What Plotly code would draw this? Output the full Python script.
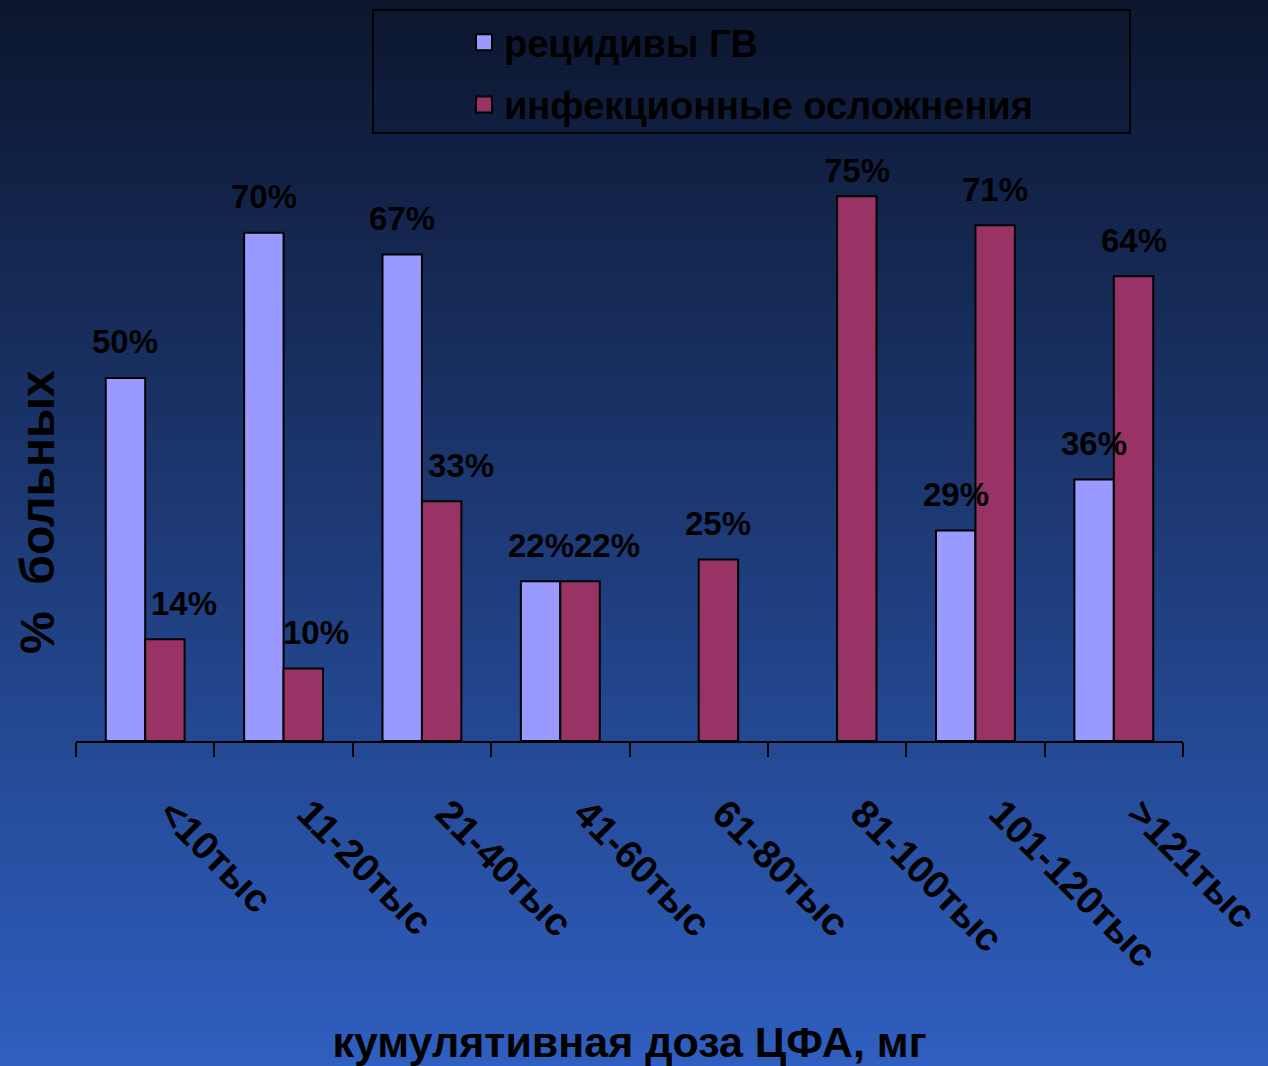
import plotly.graph_objects as go

# ---- data ----
categories = ["<10тыс", "11-20тыс", "21-40тыс", "41-60тыс", "61-80тыс",
              "81-100тыс", "101-120тыс", ">121тыс"]
relapse = [50, 70, 67, 22, None, None, 29, 36]          # рецидивы ГВ, %
infection = [14, 10, 33, 22, 25, 75, 71, 64]            # инфекционные осложнения, %
series_names = ["рецидивы ГВ", "инфекционные осложнения"]

# ---- style ----
FONT = "Liberation Sans, Arial, sans-serif"
BLUE = "#9999ff"
PLUM = "#993366"
W, H = 1268, 1066
M_L, M_R, M_T, M_B = 76, 85, 160, 325
Y_MAX = 80
plot_w = W - M_L - M_R
plot_h = H - M_T - M_B

# small pixel nudges for the value labels of the second series
infection_label_dx = [19, 13, 19, 27, 0, 0, 0, 0]
infection_label_dy = [0, 0, 0, 0, 0, -10, 0, 0]


def px_x(px):
    return (px - M_L) / plot_w


def px_y(py):
    return (H - M_B - py) / plot_h


fig = go.Figure()
for name, vals, color in [(series_names[0], relapse, BLUE),
                          (series_names[1], infection, PLUM)]:
    fig.add_trace(go.Bar(
        x=categories, y=vals, name=name, showlegend=False,
        marker=dict(color=color, line=dict(color="black", width=2)),
    ))
# legend entries with larger square swatches
for i, (name, color) in enumerate([(series_names[0], BLUE), (series_names[1], PLUM)]):
    fig.add_trace(go.Scatter(
        x=[None], y=[None], mode="markers", name=name, legendgroup=str(i),
        marker=dict(symbol="square", size=20, color=color,
                    line=dict(color="black", width=2)),
    ))

# value labels above the bars
bar_half = plot_w / len(categories) * (1 - 0.43) / 4
annotations = []
for vals, shift, dxs, dys in [(relapse, -bar_half, [0] * 8, [0] * 8),
                              (infection, bar_half, infection_label_dx, infection_label_dy)]:
    for cat, v, dx, dy in zip(categories, vals, dxs, dys):
        if v is None:
            continue
        annotations.append(dict(
            x=cat, y=v, xref="x", yref="y", text=f"{v}%", showarrow=False,
            xshift=shift + dx, yshift=36 + dy, yanchor="middle",
            font=dict(family=FONT, size=33, color="black", weight="bold"),
        ))

# y-axis title
annotations.append(dict(
    x=px_x(37), y=px_y(512), xref="paper", yref="paper",
    text="%  больных", textangle=-90, showarrow=False,
    xanchor="center", yanchor="middle",
    font=dict(family=FONT, size=48, color="black", weight="bold"),
))

# vertical gradient background built from thin bands
shapes = []
top_c = (12, 22, 46)
bot_c = (47, 95, 192)
n_bands = 214
band = H / n_bands
for i in range(n_bands):
    t = (i + 0.5) / n_bands
    c = tuple(round(top_c[k] + (bot_c[k] - top_c[k]) * t) for k in range(3))
    py0 = i * band
    py1 = (i + 1) * band + 0.6
    shapes.append(dict(
        type="rect", xref="paper", yref="paper", layer="below",
        x0=px_x(0), x1=px_x(W), y0=px_y(py1), y1=px_y(py0),
        fillcolor=f"rgb{c}", line=dict(width=0),
    ))

# legend frame
shapes.append(dict(
    type="rect", xref="paper", yref="paper", layer="below",
    x0=px_x(373), x1=px_x(1130), y0=px_y(133), y1=px_y(10),
    fillcolor="rgba(0,0,0,0)", line=dict(color="black", width=2),
))

fig.update_layout(
    width=W, height=H,
    margin=dict(l=M_L, r=M_R, t=M_T, b=M_B, autoexpand=False),
    paper_bgcolor="rgb(30,58,120)",
    plot_bgcolor="rgba(0,0,0,0)",
    barmode="group", bargap=0.43, bargroupgap=0,
    showlegend=True,
    legend=dict(
        x=px_x(464), y=px_y(11),
        xanchor="left", yanchor="top",
        bgcolor="rgba(0,0,0,0)", borderwidth=0,
        font=dict(family=FONT, size=38, color="black", weight="bold"),
        traceorder="grouped", tracegroupgap=10,
    ),
    shapes=shapes,
    annotations=annotations,
    xaxis=dict(
        showline=True, linecolor="black", linewidth=2,
        ticks="outside", tickson="boundaries", ticklen=14,
        tickcolor="black", tickwidth=2,
        tickangle=45, ticklabelstandoff=32, ticklabelshift=25,
        tickfont=dict(family=FONT, size=39, color="black", weight="bold"),
        showgrid=False, zeroline=False, automargin=False,
        title=dict(text="кумулятивная доза ЦФА, мг", standoff=54,
                   font=dict(family=FONT, size=43, color="black", weight="bold")),
    ),
    yaxis=dict(
        range=[0, Y_MAX], showticklabels=False, showline=False,
        showgrid=False, zeroline=False, ticks="", automargin=False,
    ),
)

fig.write_html("out.html")
